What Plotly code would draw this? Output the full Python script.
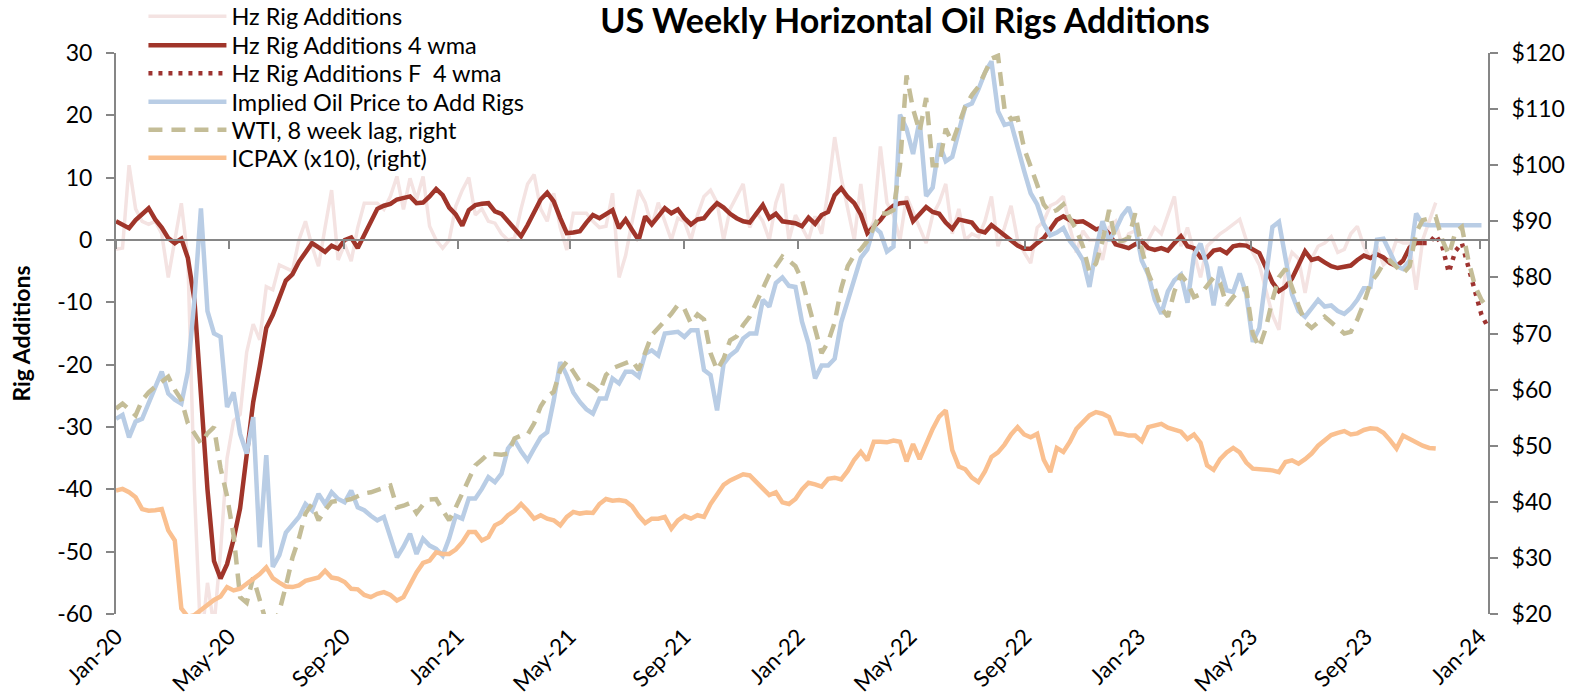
import pandas as pd
import plotly.graph_objects as go

# ---------------- data (weekly, first week 2020-01-03) ----------------
START = "2020-01-03"
END = "2024-01-12"

RIG_ADDS = [
    -1.5, -1.3, 12, 5, 3, 2.5, 3, 1, -6, 0,
    5.9, -3, -40, -65, -55, -62, -50, -35, -29, -28,
    -18, -13.5, -16, -7.5, -8, -4, -4.5, -5, 0, 3,
    -1, -4.2, 2, 8, -3.2, -0.7, -3.4, 2, 5.9, 5.9,
    5.9, 4.9, 7, 10.2, 4.9, 9.9, 6.5, 10.2, 2.2, 0,
    -1.3, 0, 5.4, 8, 10, 4, 5, 3, 2.7, 1,
    0, 0.3, 5, 9, 10.5, 5, 3, 7.5, 2, -1.6,
    4.3, 4.3, 4.3, 3, 2, 2.2, 7.5, -6, -2.5, 3,
    8, 6, 2.2, 6, 3, 0, 3.5, 3, 0, 4,
    7, 8, 6, 0, 5, 7, 9, 2, 4.5, 3,
    0, 6, 9, 0, 4, 2, 0, 3.8, 1, 8,
    16.5, 10, 5, 0, 9, 1, 3, 15, 6, 4,
    0, 7, 4.5, 2, -0.5, 4, 6, 9, 1, 5,
    0, 1, 0.5, 3, 7, -1, 2, 5.5, 0, -2,
    -3.7, 2, 3, 5.5, 6, 7, 2, -2, 1.5, 0,
    0, -3.2, 2, 3, -1, 1, 1.5, -3, 0, 2,
    1, 4, 7, -1, 2, -2, -6, -1, 0, 1,
    1.7, 2.5, 3.3, 0, -2, -4, -8, -12, -14.4, -5,
    -2, -3, -8.5, -3, -1, -0.5, 0.5, -2, -1.5, 1,
    2.2, -1, -3, -1, -4, -3, 0, -0.5, -0.5, -8,
    0, 3, 6,
]

RIG_4WMA = [
    3.0, 2.4, 1.9, 3.2, 4.2, 5.1, 3.3, 2.0, 0.3, -0.5,
    0.2, -2.9, -9.6, -25.6, -40, -51.5, -54.3, -52, -48, -43,
    -35, -26, -20.3, -14.1, -12, -9, -6.5, -5.5, -3.5, -2,
    -0.5, -1.2, -1.9, -0.9, -1.4, 0, 0.4, -1.3, 0.8, 2.8,
    5.0, 5.5, 5.8, 6.5, 6.8, 7.0, 5.9, 6.0, 7.0, 8.2,
    7.2, 5.2, 4.1, 2.3, 4.8, 5.6, 5.8, 5.9, 4.6, 4.2,
    3.0, 1.8, 0.6, 2.4, 4.5, 6.5, 7.6, 6.2, 3.5, 1.1,
    1.2, 1.4, 2.8, 4.0, 3.5, 4.2, 4.8, 1.9, 3.3, 1.6,
    0, 3.8, 2.5, 3.8, 5.1, 4.3, 4.9, 3.5, 2.5, 3.3,
    3.5, 4.8, 5.9, 5.2, 4.2, 3.5, 3.0, 2.8, 4.2, 5.6,
    3.5, 4.2, 3.0, 2.8, 2.7, 2.2, 3.6, 2.6, 4.0, 4.5,
    7.2, 8.3, 6.9, 5.9, 4.1, 1.1, 2.2, 3.2, 4.6, 5.5,
    5.9, 6.0, 3.0, 4.2, 5.3, 4.5, 4.2, 2.8, 1.8, 3.3,
    3.0, 2.8, 1.5, 1.2, 2.4, 1.6, 0.6, -0.1, -0.9, -1.4,
    -1.4, -0.5, 0.3, 1.7, 3.2, 3.8, 3.2, 2.9, 3.0, 2.4,
    1.7, 2.0, 1.0, -0.7, -1.0, -1.3, -0.7, -0.2, -1.3, -1.6,
    -1.3, -1.7, -0.5, 0.6, -1.0, -1.3, -2.8, -2.8, -1.7, -1.5,
    -2.1, -1.0, -0.8, -0.9, -1.5, -2.1, -4.4, -6.8, -8.2, -7.5,
    -6.2, -3.8, -1.8, -3.2, -2.9, -3.6, -4.2, -4.5, -4.3, -4.1,
    -3.2, -2.5, -2.9, -2.3, -2.8, -3.7, -4.2, -3.3, -1.2, -0.5,
    -0.5,
]

FORECAST_START_WEEK = 200
RIG_4WMA_F = [-0.5, -0.5, 0.8, -1.0, -5.2, -1.8, -0.5, -4.5, -8.5, -12.0, -14.0]

IMPLIED_PRICE = [
    54.8, 55.5, 51.5, 54.3, 54.8, 57.5, 60.5, 63.2, 59.3, 58.2,
    57.5, 63.2, 76, 92.3, 74, 70, 69.4, 56.9, 59.5, 52.1,
    48.6, 55.1, 31.9, 48.3, 28.4, 30.5, 34.5, 36, 37.3, 39.6,
    38.5, 41.4, 39.6, 41.7, 40.5, 39.9, 42.0, 39.0, 38.5, 37.5,
    36.7, 37.3, 33.5, 30.1, 32, 34.3, 30.7, 33.4, 32.2, 31.6,
    30.4, 33.5, 37.5, 37.0, 40.6, 40.6, 42.3, 44.4, 43.5, 45,
    49.5, 51, 49, 47.4, 49.5, 51.5, 52.4, 58.1, 64.9, 62.5,
    59.5, 57.8, 56.5, 55.7, 58.4, 58.4, 62, 61.1, 63.2, 63.2,
    62.3, 66.4, 67.0, 66.1, 70, 70.2, 70.3, 69.4, 70.6, 70.6,
    63.5, 62.6, 56.3, 64.6, 66.1, 67, 69.1, 70, 70, 76,
    74.8, 79, 80, 78.5, 78.3, 72.1, 68.2, 62.0, 64.3, 64.3,
    65.5, 72, 76, 80, 83.5, 85, 89, 88, 84.6, 85.5,
    109, 106.5, 102, 108, 94.5, 96, 103.9, 100.7, 101.5, 106,
    110.5, 111, 113.5, 116.5, 118.5, 109.6, 107.2, 107.5, 103, 99,
    95, 93, 89.5, 87.5, 88, 88.8, 86.5, 85, 83.1, 78.3,
    85, 90, 86.5, 88.5, 91, 92.5, 89, 83, 80.5, 76,
    73.5, 77.5, 79.5, 80.5, 75.5, 84, 86, 82, 75, 81.9,
    77.7, 77.4, 80.7, 77, 68.5, 71, 80, 89, 89.9, 83,
    77, 74, 73, 74.5, 76, 74.8, 75, 74, 73.5, 74.5,
    76, 78.1, 78.3, 86.7, 86.9, 84.5, 82, 81.5, 83, 91.4,
    89.5, 89.3, 89.3, 89.3, 89.3, 89.3, 89.3, 89.3, 89.3, 89.3,
]

WTI_LAG8 = [
    56.6, 57.5, 56.5, 55.4, 58.1, 59.5, 60.5, 61.5, 62.3, 60,
    58.2, 54, 52.3, 50.4, 52.2, 53.3, 46, 41, 34, 23,
    22, 26.5, 22.5, 18.5, 17.5, 20.5, 25, 30, 33.5, 37.9,
    39.6, 36.7, 38.5, 40, 40.2, 40.2, 40.5, 41, 41.5, 41.7,
    42, 42.5, 42.9, 39, 39.3, 39.8, 38, 39.5, 40.4, 40.5,
    38.5, 36.7, 39, 41.5, 43.8, 46.5, 47.5, 48.6, 48.5, 48.4,
    48.6, 51.3, 51.8, 52, 54, 57, 58.8, 59.6, 63.5, 65,
    63.2, 61.4, 61.2, 60.5, 59.5, 62.6, 63.8, 64.3, 64.8, 65.2,
    63.5, 66.7, 69.7, 71, 72.2, 73.5, 75.1, 74.4, 71.8, 73.4,
    72.5, 66.5, 63.5, 65.5, 68.8, 69.5, 71.5, 73, 75.5, 78,
    80.5, 82, 83.7, 83, 82, 79.5, 75, 70.5, 66.5, 68.5,
    72, 78, 82, 84, 85, 86.5, 89, 91.4, 91.4, 92,
    100, 116, 110, 106, 112, 100, 100, 106.5, 104, 107.5,
    110.5, 112.5, 114, 116.5, 119, 119.5, 110, 108.2, 108.4, 103,
    100, 96.5, 93, 91.5, 92, 93, 90.5, 88.5, 85.5, 81,
    82.5, 86.5, 92, 86.5, 86.5, 87, 91.4, 85, 80.7, 78,
    74.5, 73, 77.5, 80.5, 79, 76.5, 77, 78.5, 80, 79,
    75, 76.5, 77.7, 78, 70, 67.5, 71, 76, 80, 81.5,
    78, 75, 72, 71, 72, 73, 72, 71, 70, 70.3,
    72.5, 75.4, 79, 80.5, 82.5, 83, 81.9, 80.7, 82, 88,
    90.2, 90.5, 90.8, 86.7, 84, 88, 89, 83, 78.5, 76,
    74.5,
]

ICPAX_X10 = [
    42.0, 42.3, 41.7, 40.8, 38.7, 38.4, 38.5, 38.7, 34.9, 33.1,
    21, 19.5, 19.8, 20.7, 21.8, 22.5, 23.1, 24.8, 24.2, 24.5,
    25.4, 26.2, 27.1, 28.3, 26.4, 25.6, 24.9, 24.8, 25.1, 25.9,
    26.2, 26.5, 27.7, 26.5, 26.3, 25.7, 24.5, 24.4, 23.4, 23.0,
    23.6, 23.9, 23.4, 22.4, 23.0, 25.4, 27.4, 29.1, 29.5, 31.0,
    30.7, 30.7, 31.5, 32.8, 34.6, 34.6, 33.1, 33.7, 35.8, 36.4,
    37.6, 38.4, 39.6, 38.4, 37.0, 37.6, 37.0, 36.7, 35.8, 37.3,
    38.2, 37.9, 38.1, 38.0, 39.6, 40.5, 40.2, 40.3, 40.1, 39.2,
    37.5, 36.2, 37.0, 37.0, 37.3, 35.2, 36.7, 37.5, 37.0, 37.6,
    37.3, 39.6, 41.3, 43.0, 43.8, 44.3, 44.9, 44.7, 43.6, 42.5,
    41.2, 41.7, 39.9, 39.6, 40.5, 42.2, 43.4, 43.1, 42.7, 44.1,
    44.3, 44.0, 45.5, 47.5, 48.9, 47.4, 50.7, 50.7, 50.6, 50.9,
    50.7, 47.2, 50.3, 47.6, 50.5, 53.0, 55.2, 56.3, 49.2, 46.3,
    45.8, 44.3, 43.5, 45.4, 48.0, 48.8, 50.2, 52.0, 53.3, 52.0,
    51.5, 52.1, 47.5, 45.3, 49.6, 48.9, 50.7, 53.0, 54.2, 55.4,
    56.0, 55.7, 55.1, 52.2, 52.1, 51.8, 51.8, 50.8, 53.3, 53.7,
    53.9, 53.2, 52.8, 52.5, 51.2, 52.0, 50.5, 46.5, 45.7, 47.6,
    48.8, 49.6, 48.8, 47.0, 45.9, 45.8, 45.9, 45.6, 45.3, 47.1,
    47.4, 46.8, 47.6, 48.6, 50.0, 51.0, 51.9, 52.3, 52.6, 52.0,
    52.2, 52.8, 53.1, 53.0, 52.3, 51.0, 49.5, 51.8, 51.2, 50.5,
    50.0, 49.6, 49.5,
]

LEFT_TICKS = list(range(-60, 31, 10))
RIGHT_TICKS = list(range(20, 121, 10))
LEFT_TICK_TEXT = [str(v) for v in LEFT_TICKS]
RIGHT_TICK_TEXT = ["$" + str(v) for v in RIGHT_TICKS]

# ---------------- figure ----------------
weeks = pd.date_range(START, END, freq="7D")
FONT = "Lato, 'Open Sans', sans-serif"
AX = "#868686"

fig = go.Figure()
fig.add_trace(go.Scatter(x=weeks[:len(RIG_ADDS)], y=RIG_ADDS, name="Hz Rig Additions",
                         mode="lines", line=dict(color="#F4E3E2", width=3.5),
                         legend="legend"))
fig.add_trace(go.Scatter(x=weeks[:len(RIG_4WMA)], y=RIG_4WMA, name="Hz Rig Additions 4 wma",
                         mode="lines", line=dict(color="#A0352A", width=4.5),
                         legend="legend2"))
fig.add_trace(go.Scatter(x=weeks[FORECAST_START_WEEK:FORECAST_START_WEEK + len(RIG_4WMA_F)],
                         y=RIG_4WMA_F, name="Hz Rig Additions F\u00a0 4 wma",
                         mode="lines", line=dict(color="#9E3330", width=4.5, dash="4px,6px"),
                         legend="legend3"))
fig.add_trace(go.Scatter(x=weeks[:len(IMPLIED_PRICE)], y=IMPLIED_PRICE,
                         name="Implied Oil Price to Add Rigs", mode="lines",
                         line=dict(color="#B9CDE5", width=4.5), yaxis="y2",
                         legend="legend4"))
fig.add_trace(go.Scatter(x=weeks[:len(WTI_LAG8)], y=WTI_LAG8, name="WTI, 8 week lag, right",
                         mode="lines", line=dict(color="#C4BD97", width=4.5, dash="14px,9px"),
                         yaxis="y2", legend="legend5"))
fig.add_trace(go.Scatter(x=weeks[:len(ICPAX_X10)], y=ICPAX_X10, name="ICPAX (x10), (right)",
                         mode="lines", line=dict(color="#FAC090", width=4.5),
                         xaxis="x2", yaxis="y2", legend="legend6"))

PLOT_TOP, PLOT_BOTTOM = 53, 614
LEGEND_ROWS_PX = [16.5, 45.5, 73.5, 102, 130, 158]


def legend_at(ypx):
    return dict(x=0.02, y=(PLOT_BOTTOM - ypx) / (PLOT_BOTTOM - PLOT_TOP),
                xanchor="left", yanchor="middle", bgcolor="rgba(0,0,0,0)",
                font=dict(size=23.5, family=FONT, color="black"), itemwidth=78)


xrange = [START, END]
axis_common = dict(showgrid=False, zeroline=False, linecolor=AX, linewidth=2,
                   tickcolor=AX, tickwidth=2, ticklen=8)

legends = {("legend" if i == 0 else "legend%d" % (i + 1)): legend_at(y)
           for i, y in enumerate(LEGEND_ROWS_PX)}

fig.update_layout(
    width=1579, height=700,
    margin=dict(l=116, r=91, t=PLOT_TOP, b=700 - PLOT_BOTTOM, autoexpand=False),
    paper_bgcolor="white", plot_bgcolor="white",
    font=dict(family=FONT, color="black"),
    title=dict(text="<b>US Weekly Horizontal Oil Rigs Additions</b>",
               font=dict(size=34, family=FONT, color="black"),
               x=905 / 1579, xref="container", xanchor="center",
               y=1 - 21 / 700, yref="container", yanchor="middle"),
    showlegend=True,
    xaxis=dict(type="date", range=xrange, tick0=START, dtick="M4", tickformat="%b-%y",
               tickangle=-45, ticks="", showline=False, showgrid=False, zeroline=False,
               ticklabelstandoff=4, automargin=False,
               tickfont=dict(size=22.5, color="black"), anchor="y"),
    xaxis2=dict(type="date", range=xrange, tick0=START, dtick="M4", overlaying="x",
                anchor="free", position=2 / 3, showline=True, ticks="outside",
                showticklabels=False, **axis_common),
    yaxis=dict(range=[-60, 30], tickmode="array", tickvals=LEFT_TICKS, ticktext=LEFT_TICK_TEXT,
               showline=True, ticks="outside", ticklabelstandoff=9, automargin=False,
               tickfont=dict(size=23, color="black"),
               title=dict(text="<b>Rig Additions</b>", font=dict(size=23, color="black"),
                          standoff=20),
               **axis_common),
    yaxis2=dict(range=[20, 120], tickmode="array", tickvals=RIGHT_TICKS,
                ticktext=RIGHT_TICK_TEXT, overlaying="y", ticklabelstandoff=9,
                side="right", showline=True, ticks="outside", anchor="x", automargin=False,
                tickfont=dict(size=23, color="black"), **axis_common),
    **legends,
)

fig.write_html("out.html", config={"displayModeBar": False},
               post_script="document.body.style.margin='0';")
